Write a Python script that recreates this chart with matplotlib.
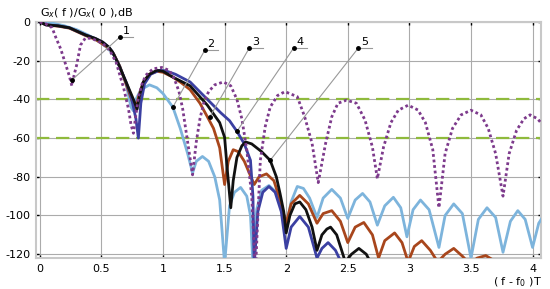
import matplotlib.pyplot as plt
import numpy as np

plt.rcParams['axes.unicode_minus'] = False

# curve 1 - dotted
c1_x = [0, 0.05, 0.1, 0.13, 0.17, 0.21, 0.24, 0.26, 0.28, 0.3, 0.33, 0.37, 0.42, 0.51, 0.57, 0.62, 0.68, 0.72, 0.74, 0.76,
        0.78, 0.8, 0.83, 0.86, 0.92, 0.99, 1.05, 1.09, 1.13, 1.16, 1.2, 1.24, 1.27, 1.3, 1.33, 1.37, 1.42, 1.49,
        1.55, 1.6, 1.64, 1.68, 1.72, 1.75, 1.79, 1.83, 1.87, 1.93, 1.99, 2.09, 2.15, 2.21, 2.26,
        2.32, 2.37, 2.42, 2.49, 2.57, 2.64, 2.7, 2.74, 2.79, 2.85, 2.91, 2.99, 3.07, 3.13, 3.19, 3.24,
        3.29, 3.35, 3.42, 3.5, 3.58, 3.64, 3.7, 3.76, 3.81, 3.87, 3.93, 3.98, 4.04, 4.08]
c1_y = [0, -1, -3, -8, -14, -22, -28, -33, -27, -22, -12, -8.3, -8.5, -11, -15, -21, -34, -45, -53, -57.5,
        -48, -39, -32, -27.5, -24.2, -23.5, -25, -29, -36, -45, -62, -79, -62, -50, -42, -36, -32.5, -31,
        -33, -40, -50, -66, -90, -130, -71.5, -54, -44, -38, -36, -38.6, -49, -62.7, -83,
        -62.7, -49, -42, -40.4, -42, -50.7, -64.7, -81, -64.7, -52, -45.6, -43, -45.5, -52, -66, -96,
        -68, -55, -48, -45.6, -48, -55, -68, -90, -68, -56, -50, -48, -50, -53]

# curve 2 - light blue
c2_x = [0, 0.1, 0.2, 0.3, 0.4, 0.5, 0.55, 0.6, 0.65, 0.7, 0.74, 0.76, 0.78, 0.82, 0.89, 0.95, 1.0, 1.08, 1.14,
        1.2, 1.24, 1.27, 1.32, 1.37, 1.42, 1.46, 1.5, 1.54, 1.58, 1.63, 1.68, 1.71, 1.73, 1.76, 1.8, 1.86,
        1.92, 1.96, 2.0, 2.04, 2.09, 2.14, 2.19, 2.25, 2.3, 2.37, 2.44, 2.5, 2.56, 2.62, 2.68, 2.74, 2.8,
        2.87, 2.93, 2.98, 3.03, 3.09, 3.16, 3.24, 3.29, 3.36, 3.43, 3.5, 3.56, 3.63, 3.7, 3.76, 3.82, 3.88,
        3.94, 4.0, 4.05, 4.08]
c2_y = [0, -0.6, -2, -4, -7, -11, -13.5, -17, -23, -32, -44, -46, -40, -35, -32.5, -34, -37, -44, -55,
        -68, -78, -72, -69.5, -72, -80, -92, -125, -95, -88, -85.5, -90, -100, -125, -97, -87, -84.5,
        -88, -95, -105, -93, -85, -86, -91, -101, -91, -86.5, -91, -101.5, -92, -88.6, -93, -105, -95,
        -90.6, -96, -111, -97, -92, -97, -116.5, -100, -94, -99, -122, -102, -96, -101, -119, -103, -97.5,
        -102, -116.5, -104, -101]

# curve 3 - brown
c3_x = [0, 0.05, 0.15, 0.24, 0.37, 0.45, 0.5, 0.56, 0.6, 0.65, 0.7, 0.75, 0.78, 0.8, 0.84, 0.89, 0.95, 1.0,
        1.08, 1.15, 1.22, 1.3, 1.36, 1.41, 1.46, 1.5, 1.53, 1.57, 1.61, 1.66, 1.7, 1.74, 1.78, 1.84, 1.9,
        1.95, 2.0, 2.04, 2.11, 2.18, 2.25, 2.3, 2.37, 2.44, 2.5, 2.56, 2.63, 2.7, 2.75, 2.8, 2.88, 2.94,
        2.99, 3.04, 3.1, 3.17, 3.23, 3.29, 3.36, 3.43, 3.49, 3.55, 3.62, 3.68, 3.72]
c3_y = [0, -1.5, -2.2, -3.2, -7, -9, -11, -13.5, -16.5, -23, -32, -41, -46, -39, -31, -27, -25.5, -26,
        -28.5, -31.5, -35, -42, -49, -55, -65, -84, -72, -66, -67, -72, -78, -84, -80, -78.5, -82,
        -92, -104, -94, -89.6, -94, -104, -99, -97.5, -103, -114, -106, -103.6, -110, -122, -113, -109, -114,
        -124, -116, -113, -118, -124, -120, -117, -121, -125, -122, -120.7, -123, -127]

# curve 4 - dark blue
c4_x = [0, 0.05, 0.15, 0.24, 0.37, 0.45, 0.51, 0.56, 0.59, 0.64, 0.7, 0.74, 0.78, 0.8, 0.82, 0.85, 0.9, 0.97,
        1.02, 1.1, 1.22, 1.36, 1.47, 1.54, 1.6, 1.66, 1.71, 1.73, 1.74, 1.77, 1.81, 1.86, 1.91, 1.96, 2.0,
        2.04, 2.11, 2.18, 2.25, 2.29, 2.34, 2.4, 2.46]
c4_y = [0, -1.5, -2, -3, -6.7, -8.5, -10.4, -13, -15.5, -22, -31, -38, -50, -60, -42, -32, -27, -25,
        -25.2, -27, -31, -40, -47, -51, -56.5, -63, -71.5, -90, -126, -98, -88, -85, -88, -98, -117,
        -106, -100.5, -106, -122, -117, -114, -118, -126]

# curve 5 - black
c5_x = [0, 0.05, 0.15, 0.24, 0.37, 0.45, 0.51, 0.56, 0.59, 0.64, 0.7, 0.74, 0.76, 0.79, 0.81, 0.84, 0.89, 0.95,
        1.0, 1.08, 1.22, 1.36, 1.46, 1.5, 1.52, 1.55, 1.57, 1.6, 1.64, 1.67, 1.72, 1.8, 1.87, 1.92, 1.95,
        1.98, 2.0, 2.03, 2.07, 2.11, 2.16, 2.21, 2.25, 2.29, 2.33, 2.36, 2.41, 2.48, 2.53, 2.59, 2.65, 2.7]
c5_y = [0, -1.5, -2, -3, -6.7, -8.5, -10.4, -13, -15.5, -22, -31, -37, -40, -45, -38, -31, -27, -25,
        -25.5, -28.5, -33, -43, -52, -59.6, -75, -96, -82, -70, -64, -62, -63, -67, -71.5, -80, -88.6,
        -98, -109, -100, -94, -93, -97, -106, -118, -110, -107, -106, -110, -124, -120, -117, -120, -126]

# leader labels: text, label point (x, y), curve point (x, y)
lbl_text = ['1', '2', '3', '4', '5']
lbl_pt = [(0.65, -7.8), (1.34, -14.5), (1.70, -13.5), (2.06, -13.5), (2.585, -13.5)]
lbl_end = [(0.26, -30), (1.08, -44), (1.38, -49), (1.60, -56.5), (1.87, -71.5)]

xticks = [0, 0.5, 1, 1.5, 2, 2.5, 3, 3.5, 4]
xtick_labels = ['0', '0.5', '1', '1.5', '2', '2.5', '3', '3.5', '4']
yticks = [0, -20, -40, -60, -80, -100, -120]
green_levels = [-40, -60]

fig = plt.figure(figsize=(5.5, 2.89), dpi=100)
ax = fig.add_axes([0.065, 0.107, 0.919, 0.817])

ax.grid(True, color='#ababab', lw=0.8)
ax.set_axisbelow(True)

for lv in green_levels:
    ax.axhline(lv, color='#8fba3c', lw=1.6, ls=(0, (6, 3)), zorder=2)

ax.plot(c2_x, c2_y, color='#7db4dc', lw=2, zorder=3)
ax.plot(c3_x, c3_y, color='#a8461c', lw=2, zorder=4)
ax.plot(c4_x, c4_y, color='#3b40a2', lw=2, zorder=4)
ax.plot(c5_x, c5_y, color='#111111', lw=2, zorder=5)
ax.plot(c1_x, c1_y, color='#7d3a8c', lw=2, ls=(0, (1, 1)), zorder=6)

for t, (lx, ly), (ex, ey) in zip(lbl_text, lbl_pt, lbl_end):
    ax.plot([lx, ex], [ly, ey], color='#999999', lw=0.8, zorder=7)
    ax.plot([lx, lx + 0.11], [ly, ly], color='#999999', lw=0.8, zorder=7)
    ax.plot([lx, ex], [ly, ey], 'o', color='black', ms=2.5, zorder=8)
    ax.text(lx + 0.05, ly + 0.5, t, fontsize=8, ha='center', va='bottom', zorder=8)

ax.set_xlim(-0.033, 4.07)
ax.set_ylim(-122, 0)
ax.set_xticks(xticks)
ax.set_xticklabels(xtick_labels)
ax.set_yticks(yticks)
ax.tick_params(direction='in', length=2, width=1, labelsize=8, colors='black',
               top=True, right=True)
ax.tick_params(axis='y', pad=4)
ax.tick_params(axis='x', pad=4)
for s in ax.spines.values():
    s.set_color('#c8c8c8')
    s.set_linewidth(1.5)

fig.text(0.072, 0.955, r'G$_x$( f )/G$_x$( 0 ),dB', fontsize=8, ha='left', va='center')
fig.text(0.985, 0.025, r'( f - f$_0$ )T', fontsize=8, ha='right', va='center')

fig.savefig('out.png', dpi=100)
